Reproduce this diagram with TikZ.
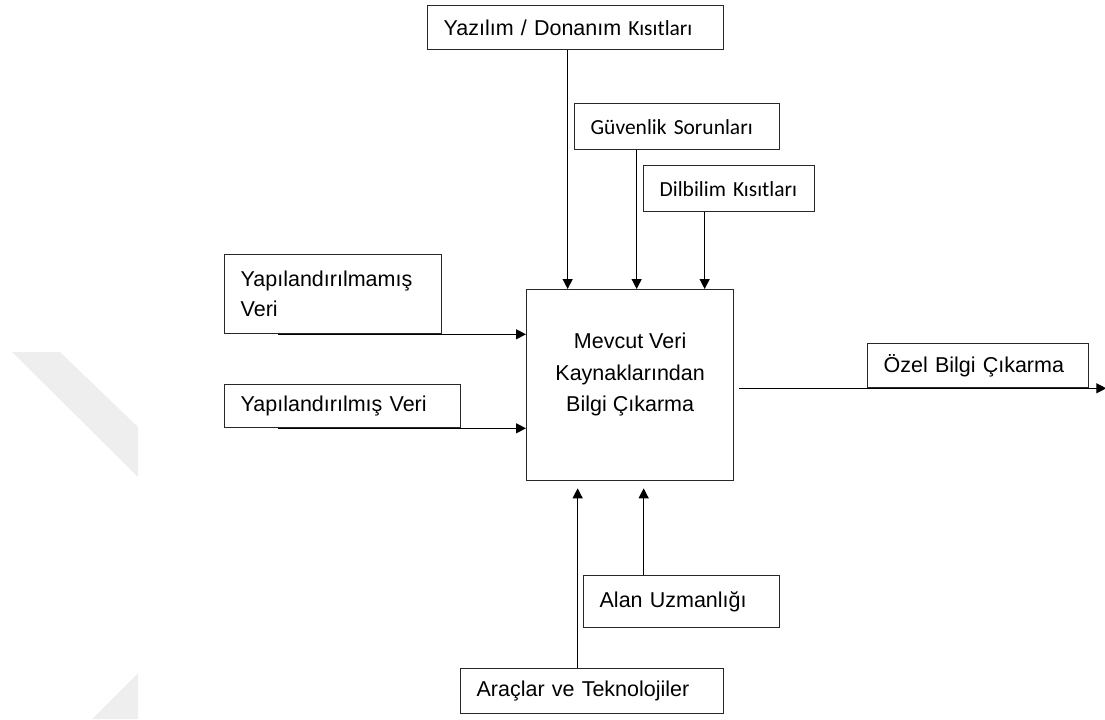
\documentclass[tikz,border=0pt]{standalone}
\usepackage{fontspec}
\setmainfont{Liberation Sans}
\newfontfamily\calibri{Carlito}
\usetikzlibrary{arrows.meta}
\definecolor{wmgray}{RGB}{238,238,238}
\definecolor{boxline}{RGB}{40,40,40}

\begin{document}
\begin{tikzpicture}[
    x=0.5pt, y=-0.5pt,
    box/.style={draw=boxline,line width=0.65pt,anchor=north west,inner xsep=8pt,inner ysep=0pt,align=left,font=\fontsize{10.75}{15}\selectfont},
    mainbox/.style={draw=boxline,line width=0.65pt,anchor=north west,inner sep=0pt,minimum width=103.5pt,minimum height=95.5pt},
    arrow/.style={-{Triangle[length=5pt,width=5pt]},line width=0.65pt}
  ]
  \useasboundingbox (0,0) rectangle (1105,719);
  % faint watermark on the left
  \fill[wmgray] (12,352) -- (60,352) -- (138,427) -- (138,477) -- cycle;
  \fill[wmgray] (138,673) -- (138,719) -- (92,719) -- cycle;

  \node[mainbox] (main) at (526,289) {};
  \node[font=\fontsize{10.75}{15.75}\selectfont,align=center] (maintext) at ([yshift=5.25pt]main.center) {Mevcut Veri\\Kaynaklarından\\Bilgi Çıkarma};

  % constraints (top)
  \node[box,text width=132pt,minimum height=22pt] (soft) at (427,5) {Yazılım / Donanım {\calibri Kısıtları}};
  \node[box,text width=86.5pt,minimum height=23pt,font=\calibri\fontsize{10.75}{15}\selectfont] (guv) at (574,103) {Güvenlik Sorunları};
  \node[box,text width=69.5pt,minimum height=23pt,font=\calibri\fontsize{10.75}{15}\selectfont] (dil) at (643,165) {Dilbilim Kısıtları};

  % inputs (left)
  \node[box,text width=92.5pt,minimum height=39.5pt] (unstr) at (224,254) {Yapılandırılmamış\\Veri};
  \node[box,text width=102pt,minimum height=21.5pt] (str) at (224,384) {Yapılandırılmış Veri};

  % output (right)
  \node[box,text width=94.5pt,minimum height=22pt] (out) at (867,343) {Özel Bilgi Çıkarma};

  % mechanisms (bottom)
  \node[box,text width=82pt,minimum height=26pt] (alan) at (583,575) {Alan Uzmanlığı};
  \node[box,text width=115.5pt,minimum height=22.5pt] (tools) at (460,668) {Araçlar ve Teknolojiler};

  \draw[arrow] ([xshift=-4pt]soft.south) -- ([xshift=-4pt]soft.south |- main.north);
  \draw[arrow] ([xshift=-20.25pt]guv.south) -- ([xshift=-20.25pt]guv.south |- main.north);
  \draw[arrow] ([xshift=-12.25pt]dil.south) -- ([xshift=-12.25pt]dil.south |- main.north);

  \draw[arrow] ([xshift=27pt]unstr.south west) -- (main.west |- unstr.south west);
  \draw[arrow] ([xshift=27pt]str.south west) -- (main.west |- str.south west);

  \draw[arrow] ([xshift=2.5pt]main.east |- out.south) -- ([xshift=8.5pt]out.south east);

  \draw[arrow] ([xshift=-19pt]alan.north) -- ([xshift=-19pt,yshift=-3.5pt]alan.north |- main.south);
  \draw[arrow] ([xshift=-7.25pt]tools.north) -- ([xshift=-7.25pt,yshift=-3.5pt]tools.north |- main.south);
\end{tikzpicture}
\end{document}
